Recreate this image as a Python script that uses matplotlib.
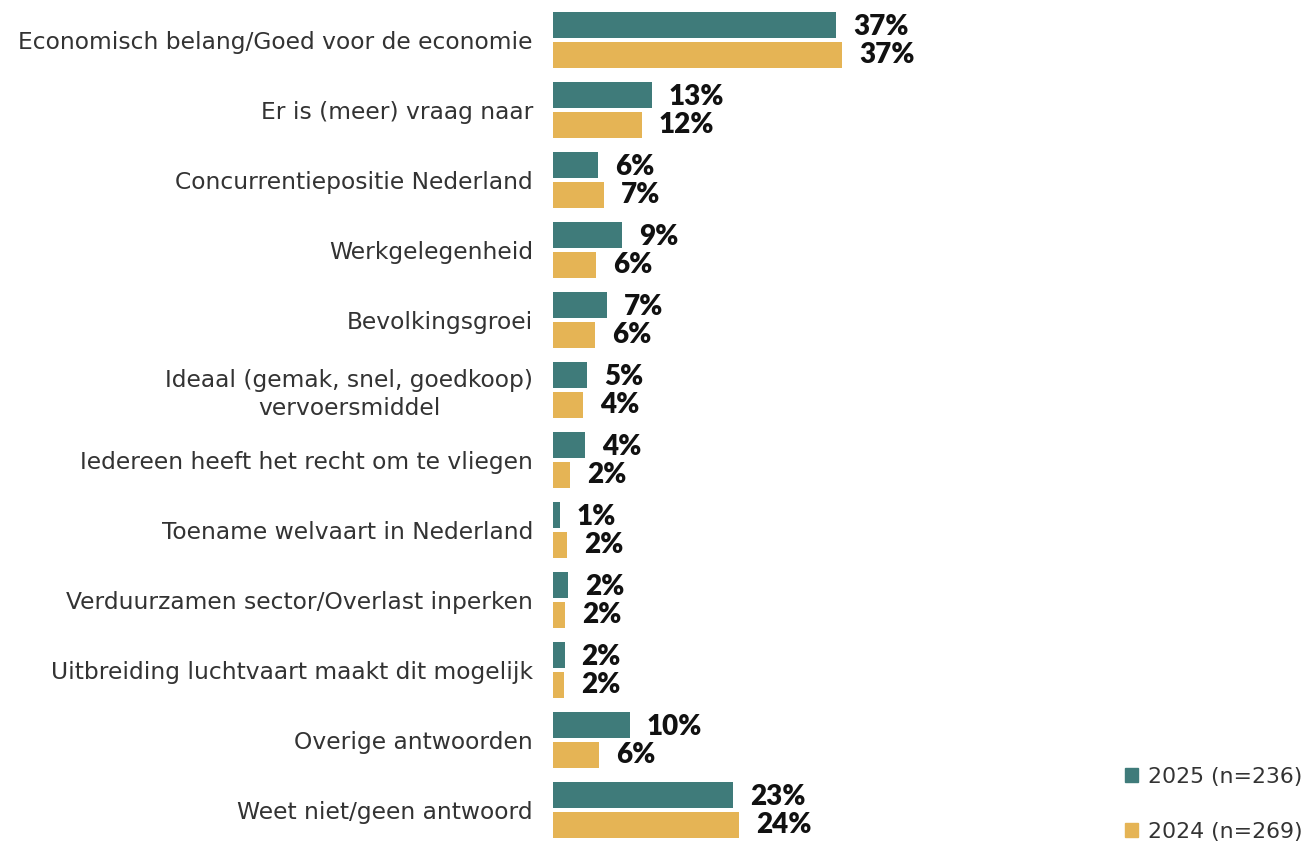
import matplotlib
matplotlib.use("Agg")
import matplotlib.pyplot as plt
from matplotlib.patches import Patch

categories = [
    "Economisch belang/Goed voor de economie",
    "Er is (meer) vraag naar",
    "Concurrentiepositie Nederland",
    "Werkgelegenheid",
    "Bevolkingsgroei",
    "Ideaal (gemak, snel, goedkoop)\nvervoersmiddel",
    "Iedereen heeft het recht om te vliegen",
    "Toename welvaart in Nederland",
    "Verduurzamen sector/Overlast inperken",
    "Uitbreiding luchtvaart maakt dit mogelijk",
    "Overige antwoorden",
    "Weet niet/geen antwoord",
]
values_2025 = [36.6, 12.75, 5.8, 8.9, 7.0, 4.4, 4.1, 0.9, 1.9, 1.5, 9.95, 23.3]
values_2024 = [37.4, 11.5, 6.6, 5.6, 5.4, 3.9, 2.2, 1.85, 1.6, 1.4, 6.0, 24.0]
labels_2025 = ["37%", "13%", "6%", "9%", "7%", "5%", "4%", "1%", "2%", "2%", "10%", "23%"]
labels_2024 = ["37%", "12%", "7%", "6%", "6%", "4%", "2%", "2%", "2%", "2%", "6%", "24%"]
series_names = ["2025 (n=236)", "2024 (n=269)"]

teal = "#3F7B7A"
gold = "#E5B455"
txt = "#333333"
cat_font = "DejaVu Sans"

W, H = 1307, 842
fig = plt.figure(figsize=(W / 100, H / 100), dpi=100)
ax_left = 553 / W
ax = fig.add_axes([ax_left, 0, 1 - ax_left, 1])

pitch = 70.0
y_first = 40.0
ax.set_ylim((H - y_first) / pitch, -y_first / pitch)
ax.set_xlim(0, (W - 553) / 7.74)

bh = 26 / pitch
off = 15 / pitch
ys = list(range(len(categories)))
y25 = [y - off for y in ys]
y24 = [y + off for y in ys]
ax.barh(y25, values_2025, height=bh, color=teal)
ax.barh(y24, values_2024, height=bh, color=gold)

pad = 17 / 7.74
for yv, v, lab in zip(y25, values_2025, labels_2025):
    ax.text(v + pad, yv + 2 / pitch, lab, va="center", ha="left", fontsize=20,
            fontweight="heavy", family="Lato", color="#111111")
for yv, v, lab in zip(y24, values_2024, labels_2024):
    ax.text(v + pad, yv, lab, va="center", ha="left", fontsize=20,
            fontweight="heavy", family="Lato", color="#111111")

ax.set_yticks(ys)
ax.set_yticklabels(categories, fontsize=16.8, family=cat_font, color=txt,
                   multialignment="center", linespacing=1.25)
ax.tick_params(axis="y", length=0, pad=14.4)
ax.set_xticks([])
for s in ax.spines.values():
    s.set_visible(False)

handles = [Patch(color=teal, label=series_names[0]), Patch(color=gold, label=series_names[1])]
fig.legend(handles=handles, loc="lower right", bbox_to_anchor=(1.0, -0.005),
           frameon=False, prop={"family": cat_font, "size": 15.8},
           labelcolor=txt, handlelength=0.6, handleheight=0.6, handletextpad=0.45,
           labelspacing=1.6, borderaxespad=0.1, borderpad=0.1)

fig.savefig("out.png", dpi=100)
